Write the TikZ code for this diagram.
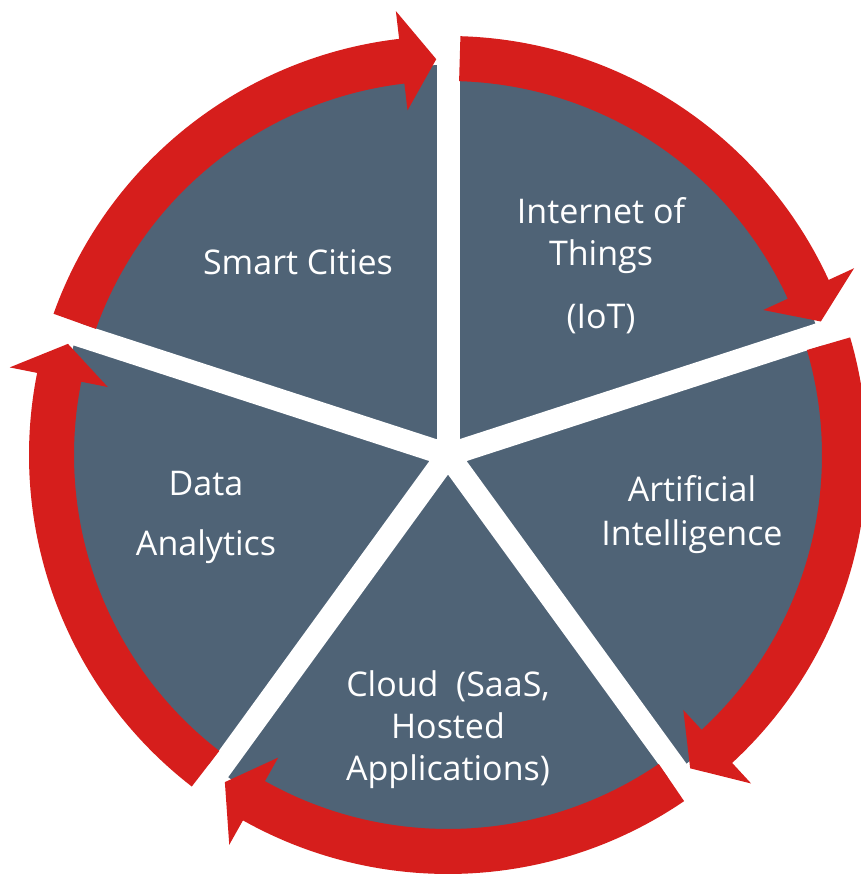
\documentclass[tikz,border=0pt]{standalone}
\usepackage{fontspec}
\setmainfont{Open Sans}
\definecolor{slate}{RGB}{79,99,118}
\definecolor{ringred}{RGB}{214,30,28}
\begin{document}
\begin{tikzpicture}[x=1pt, y=1pt,
  sectortext/.style={text=white, align=center, font=\fontsize{34}{42}\selectfont}]
  \useasboundingbox (0,0) rectangle (860,878);
  \coordinate (c) at (448,423);
  \fill[slate] (c) circle[radius=390];
  \foreach \g in {162,90,18,-54,-126} {
    \draw[white, line width=23pt] (c) -- ++(\g:420);
  }
  \foreach \g in {162,90,18,-54,-126} {
    \pgfmathsetmacro\ta{\g-1.7}
    \pgfmathsetmacro\tip{\g-72+1.7}
    \pgfmathsetmacro\back{\tip+5}
    \fill[ringred] ([shift={(\ta:419)}]c) arc[start angle=\ta, end angle=\back, radius=419]
      -- ([shift={(\back:447)}]c) -- ([shift={(\tip:396)}]c) -- ([shift={(\back:347)}]c)
      -- ([shift={(\back:374)}]c) arc[start angle=\back, end angle=\ta, radius=374] -- cycle;
  }
  \node[sectortext] (cities) at (298,616) {Smart Cities};
  \node[sectortext] (iot) at (601,612) {Internet of\\Things\\[21pt](IoT)};
  \node[sectortext] (ai) at (692,363) {Artificial\\[2pt]Intelligence};
  \node[sectortext] (data) at (206,361) {Data\\[18pt]Analytics};
  \node[sectortext] (cloud) at (448,148) {Cloud \ (SaaS,\\Hosted\\Applications)};
\end{tikzpicture}
\end{document}
